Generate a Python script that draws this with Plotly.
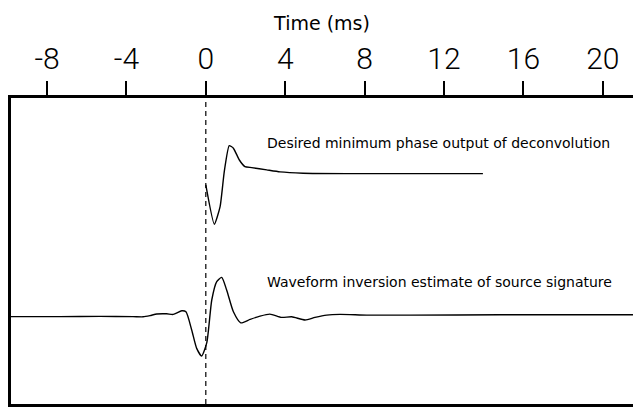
import plotly.graph_objects as go

# Desired minimum phase output (upper trace)
t_minphase = [0.0, 0.43, 0.72, 0.93, 1.18, 1.39, 1.69, 1.97, 2.31, 3.07, 3.74, 4.90, 7.10, 13.96]
a_minphase = [-0.28, -1.265, -0.825, 0.05, 0.70, 0.635, 0.34, 0.175, 0.15, 0.0925, 0.0425, 0.01, 0.0, 0.0]

# Waveform inversion estimate (lower trace)
t_inversion = [-9.91, -7.35, -5.33, -3.67, -3.16, -2.81, -2.47, -1.97, -1.64, -1.21, -1.00, -0.71,
               -0.46, -0.21, 0.05, 0.30, 0.55, 0.80, 1.05, 1.39, 1.76, 2.23, 2.73, 3.23, 3.82,
               4.33, 5.00, 5.50, 6.09, 6.76, 8.11, 10.28, 14.82, 21.52]
a_inversion = [-0.025, -0.025, -0.02, -0.025, -0.03, 0.0, 0.04, 0.045, 0.03, 0.12, 0.095, -0.36,
               -0.82, -1.01, -0.675, 0.39, 0.85, 0.955, 0.64, 0.095, -0.18, -0.095, -0.0125, 0.0375, -0.045,
               -0.03, -0.11, -0.045, 0.0125, 0.03, 0.0125, 0.0125, 0.02, 0.02]

tick_vals = [-8, -4, 0, 4, 8, 12, 16, 20]
tick_text = ["-8", "-4", "0", "4", "8", "12", "16", "20"]

label_minphase = "Desired minimum phase output of deconvolution"
label_inversion = "Waveform inversion estimate of source signature"

offset_upper = 5.76
offset_lower = 2.21

fig = go.Figure()
fig.add_trace(go.Scatter(x=t_minphase, y=[a + offset_upper for a in a_minphase], mode="lines",
                         line=dict(color="black", width=1.4, shape="spline", smoothing=0.5), showlegend=False))
fig.add_trace(go.Scatter(x=t_inversion, y=[a + offset_lower for a in a_inversion], mode="lines",
                         line=dict(color="black", width=1.4, shape="spline", smoothing=0.6), showlegend=False))

fig.add_shape(type="line", x0=0, x1=0, y0=0, y1=1, xref="x", yref="paper",
              line=dict(color="black", width=1.2, dash="5px,4px"))

fig.add_annotation(x=2.98, y=6.525, text=label_minphase, showarrow=False, xanchor="left", yanchor="middle",
                   font=dict(family="DejaVu Sans", size=14, color="black"))
fig.add_annotation(x=2.98, y=3.05, text=label_inversion, showarrow=False, xanchor="left", yanchor="middle",
                   font=dict(family="DejaVu Sans", size=14, color="black"))

fig.update_layout(
    width=633, height=408,
    margin=dict(l=11, r=0, t=98, b=4),
    paper_bgcolor="white", plot_bgcolor="white",
    xaxis=dict(range=[-9.814, 21.521], side="top", showline=True, mirror=True, linecolor="black",
               linewidth=3, ticks="outside", ticklen=14, tickwidth=1.5, tickcolor="black",
               tickvals=tick_vals, ticktext=tick_text, showgrid=False, zeroline=False,
               tickfont=dict(family="Roboto", size=30, color="black", weight=300),
               title=dict(text="Time (ms)", font=dict(family="DejaVu Sans", size=19, color="black"), standoff=6)),
    yaxis=dict(range=[0, 7.65], showline=True, linecolor="black", linewidth=3, showticklabels=False,
               ticks="", showgrid=False, zeroline=False),
)

fig.write_html("out.html")
